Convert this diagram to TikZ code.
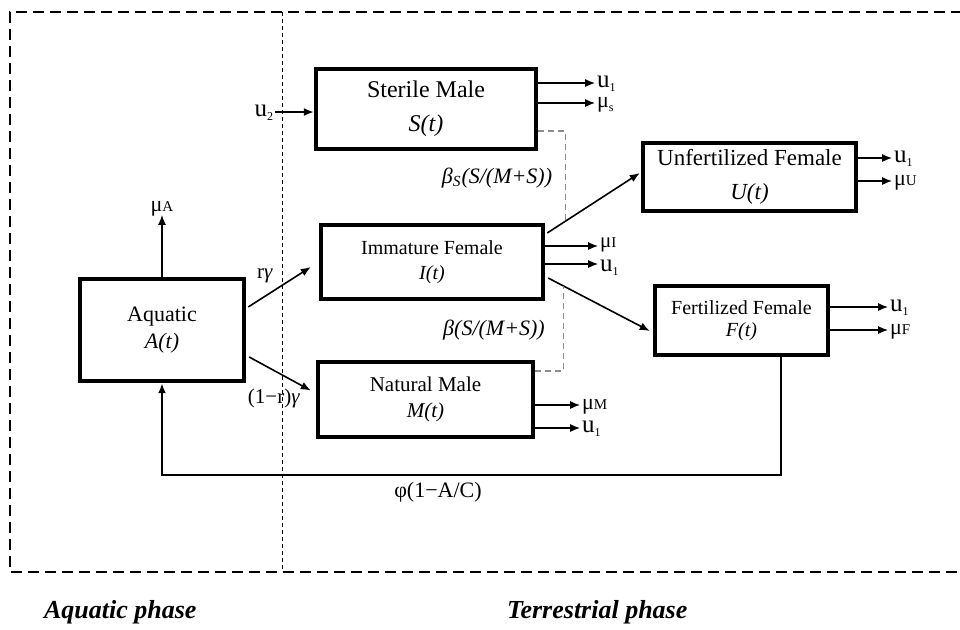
\documentclass[tikz,border=0pt]{standalone}
\usepackage{fontspec}
\setmainfont{Liberation Serif}
\usetikzlibrary{arrows.meta,calc}
\newcommand\lsub[1]{{\fontsize{7.5}{7.5}\selectfont #1}}
\newcommand\dsub[1]{\raisebox{-2pt}{\fontsize{6}{6}\selectfont #1}}
\begin{document}
\begin{tikzpicture}[x=0.5pt,y=-0.5pt,
  box/.style={draw,line width=2.2pt,inner sep=0pt,align=center},
  arr/.style={-{Latex[length=5pt,width=4pt]},line width=0.8pt},
  link/.style={draw=black!45,dash pattern=on 3pt off 2pt,line width=0.7pt},
  ulbl/.style={inner sep=0.5pt,text height=5pt,text depth=1pt,font=\fontsize{12.5}{12.5}\selectfont},
  mlbl/.style={inner sep=0.5pt,text height=5pt,text depth=1pt,font=\fontsize{11}{11}\selectfont},
  elbl/.style={inner sep=0pt,font=\fontsize{10.5}{10.5}\selectfont},
  phase/.style={anchor=west,font=\fontsize{13}{13}\selectfont\bfseries\itshape}
]
\useasboundingbox (0,0) rectangle (960,629);

% frame and divider
\draw[line width=1.2pt,dash pattern=on 5.5pt off 3pt] (962,12) -- (10,12) -- (10,572) -- (962,572);
\draw[line width=0.5pt,dash pattern=on 2pt off 1.5pt] (282,12) -- (282,572);

% boxes
\node[box,minimum width=110pt,minimum height=40pt,font=\fontsize{12}{17}\selectfont] (S) at (426,109) {Sterile Male\\\textit{S(t)}};
\node[box,minimum width=106.5pt,minimum height=34pt,font=\fontsize{11.5}{17}\selectfont] (U) at (749.5,177) {Unfertilized Female\\\textit{U(t)}};
\node[box,minimum width=111pt,minimum height=37pt,font=\fontsize{10}{12.5}\selectfont] (I) at (432,262) {Immature Female\\\textit{I(t)}};
\node[box,minimum width=86.5pt,minimum height=34.5pt,font=\fontsize{10}{11}\selectfont] (F) at (741.5,320.5) {Fertilized Female\\\textit{F(t)}};
\node[box,minimum width=107.5pt,minimum height=37.5pt,font=\fontsize{10.5}{13}\selectfont] (M) at (425.5,399.5) {Natural Male\\\textit{M(t)}};
\node[box,minimum width=82pt,minimum height=51pt,font=\fontsize{11}{13.5}\selectfont] (A) at (162,330) {Aquatic\\\textit{A(t)}};

% aquatic
\draw[arr] (A.north) -- ++(0,-62) node[above,mlbl] (muA) {μ\lsub{A}};
\draw[arr] ($(A.east)+(2,-23)$) -- ($(I.west)+(-8,5)$);
\draw[arr] ($(A.east)+(3,27)$) -- ($(M.west)+(-5,-9)$);
\node[elbl] (rg) at (265,276) {r\textit{γ}};
\node[elbl] (rg2) at (274,398) {(1−r)\textit{γ}};

% sterile male
\draw[arr] ($(S.west)+(-39,3)$) node[left,ulbl] (u2) {u\dsub{2}} -- ($(S.west)+(0,3)$);
\draw[arr] ($(S.east)+(0,-26)$) -- ++(57,0) node[right,ulbl] (Su) {u\dsub{1}};
\draw[arr] ($(S.east)+(0,-6)$) -- ++(57,0) node[right,mlbl] (Smu) {μ\dsub{s}};

% immature female
\draw[arr] ($(I.east)+(2,-29)$) -- coordinate[pos=0.196] (jU) ($(U.west)+(-1,-4)$);
\draw[arr] ($(I.east)+(3,16)$) -- coordinate[pos=0.151] (jF) ($(F.west)+(-3,10.5)$);
\draw[arr] ($(I.east)+(0,-16)$) -- ++(53,0) node[right,mlbl,yshift=1.5pt,font=\fontsize{10.5}{10.5}\selectfont] (Imu) {μ\lsub{I}};
\draw[arr] ($(I.east)+(0,2)$) -- ++(53,0) node[right,ulbl,yshift=-1.5pt] (Iu) {u\dsub{1}};

% mating links
\draw[link] ($(S.east)+(0,22)$) -| (jU);
\draw[link] ($(M.east)+(0,-28.5)$) -| (jF);
\node[elbl,font=\fontsize{11}{11}\selectfont\itshape] (bS) at (497,178) {β\textsubscript{S}(S/(M+S))};
\node[elbl,font=\fontsize{11}{11}\selectfont\itshape] (b) at (494,330) {β(S/(M+S))};

% unfertilized
\draw[arr] ($(U.east)+(0,-19)$) -- ++(34,0) node[right,ulbl] (Uu) {u\dsub{1}};
\draw[arr] ($(U.east)+(0,4)$) -- ++(34,0) node[right,mlbl] (Umu) {μ\lsub{U}};

% fertilized
\draw[arr] ($(F.east)+(0,-13.5)$) -- ++(58,0) node[right,ulbl] (Fu) {u\dsub{1}};
\draw[arr] ($(F.east)+(0,9.5)$) -- ++(58,0) node[right,mlbl] (Fmu) {μ\lsub{F}};

% natural male
\draw[arr] ($(M.east)+(0,5.5)$) -- ++(45,0) node[right,mlbl] (Mmu) {μ\lsub{M}};
\draw[arr] ($(M.east)+(0,28.5)$) -- ++(45,0) node[right,ulbl] (Mu) {u\dsub{1}};

% feedback
\draw[arr,line width=1pt] ($(F.south)+(39,0)$) -- ++(0,118) -| (A.south);
\node[elbl,font=\fontsize{11}{11}\selectfont] (phi) at (438,492) {φ(1−A/C)};

% phases
\node[phase] (aqp) at (37,612) {Aquatic phase};
\node[phase] (tep) at (500,612) {Terrestrial phase};
\end{tikzpicture}
\end{document}
